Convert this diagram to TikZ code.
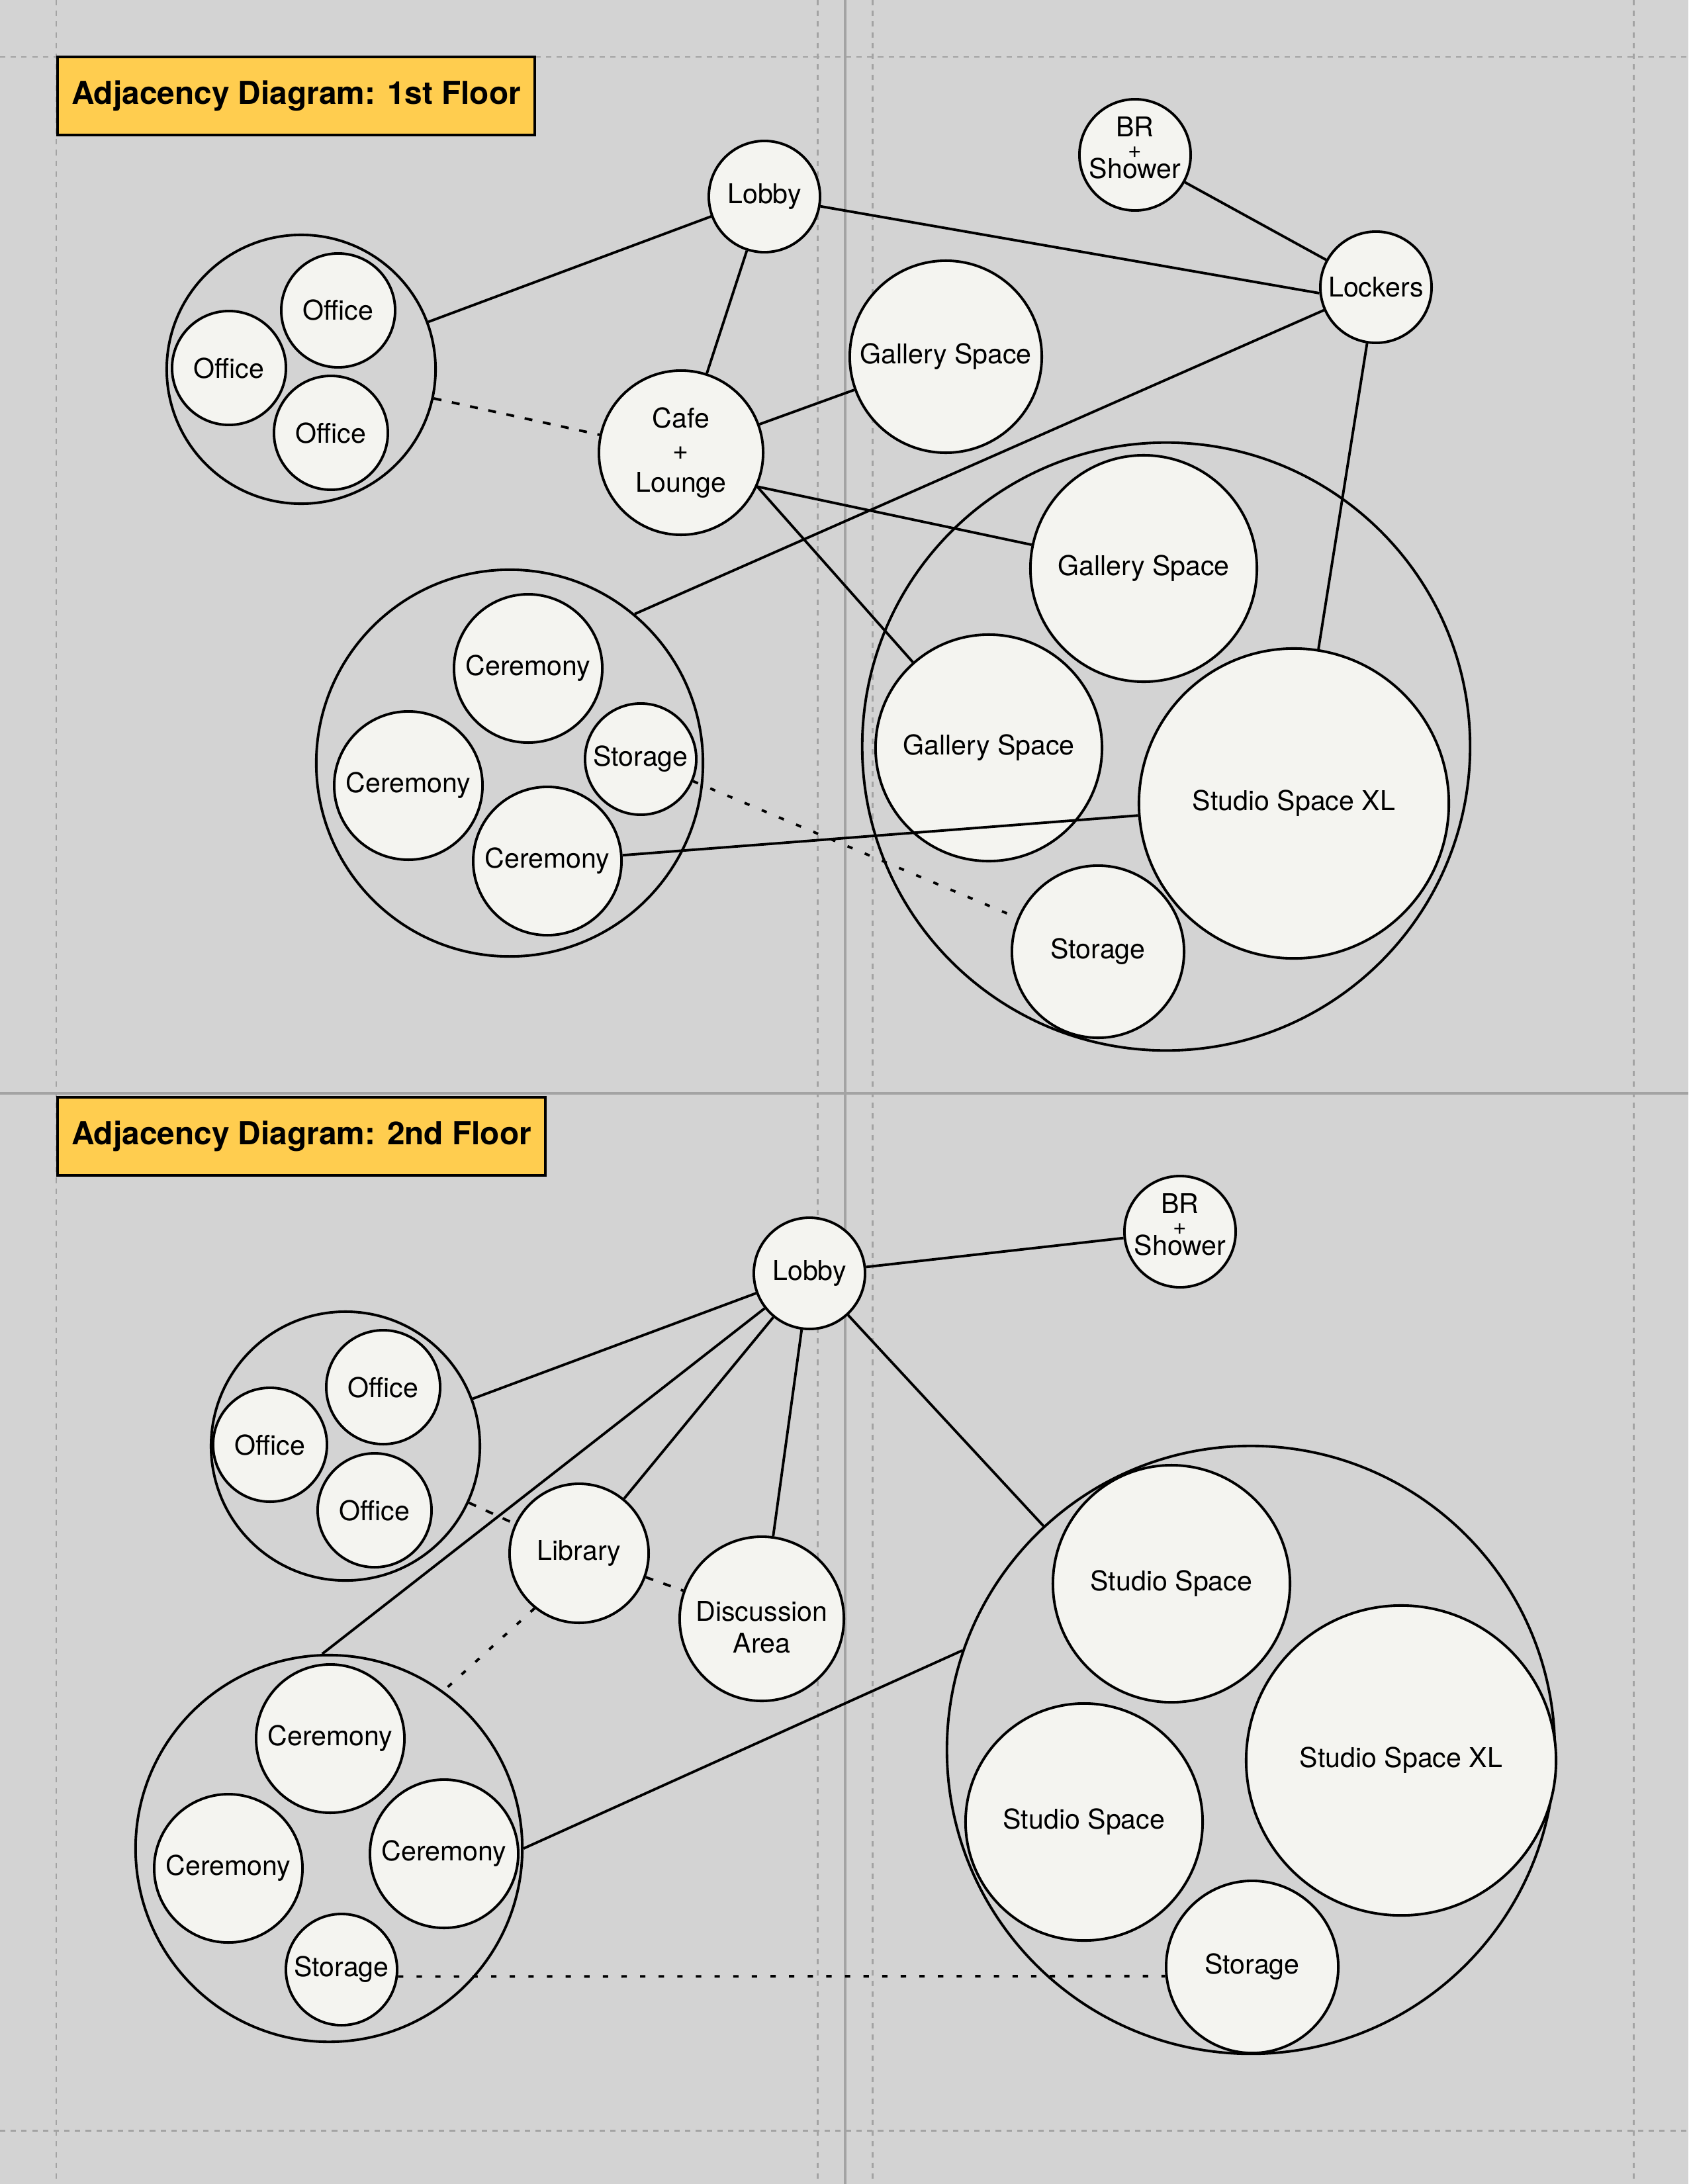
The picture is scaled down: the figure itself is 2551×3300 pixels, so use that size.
\documentclass[tikz,border=0pt]{standalone}
\usepackage{fontspec}
\setmainfont{TeX Gyre Heros}
\usepackage{tikz}
\usetikzlibrary{positioning}

\definecolor{fond}{HTML}{D3D3D3}
\definecolor{papier}{HTML}{F4F4F0}
\definecolor{jaune}{HTML}{FFCD4F}
\definecolor{grille}{HTML}{A3A3A3}

\begin{document}
\begin{tikzpicture}[
                x=0.01cm, y=-0.01cm,
                salle/.style={circle, draw, line width=1.1pt, fill=papier, inner sep=0pt, align=center, font=\fontsize{11.7}{13.8}\selectfont, minimum size=#1},
                salle/.default=1.68cm,
                douche/.style={align=center, inner sep=0pt, font=\fontsize{11.7}{8.9}\selectfont, yshift=3pt},
                discussion/.style={align=center, inner sep=0pt, font=\fontsize{11.7}{13.8}\selectfont, yshift=-3.6pt},
                groupe/.style={circle, draw, line width=1.1pt, inner sep=0pt, minimum size=#1},
                lien/.style={line width=1.1pt},
                tirets/.style={line width=1.1pt, dash pattern=on 3.4pt off 4.6pt},
                points/.style={line width=1.1pt, dash pattern=on 2.3pt off 5.7pt},
                trame/.style={grille, line width=0.85pt, dash pattern=on 2.3pt off 2.3pt},
                titre/.style={draw, line width=1.1pt, fill=jaune, anchor=north west, minimum height=1.18cm, inner xsep=6pt, font=\bfseries\fontsize{13.6}{16}\selectfont}
            ]

            % Fond et trame
            \fill[fond] (0,0) rectangle (2551,3300);
            \useasboundingbox (0,0) rectangle (2551,3300);
            \foreach \gx in {85,1235,1318,2468}
                \draw[trame] (\gx,0) -- (\gx,3300);
            \foreach \gy in {86,3219}
                \draw[trame] (0,\gy) -- (2551,\gy);
            \draw[grille, line width=1.1pt] (1277,0) -- (1277,3300);
            \draw[grille, line width=1.1pt] (0,1652) -- (2551,1652);

            % Titres
            \node[titre] (titre1) at (85,84) {Adjacency Diagram: 1st Floor};
            \node[titre] (titre2) at (85,1656) {Adjacency Diagram: 2nd Floor};

            % 1er etage : groupes
            \node[groupe=4.06cm] (offgrp1) at (455,558) {};
            \node[groupe=5.84cm] (cergrp1) at (770,1153) {};
            \node[groupe=9.18cm] (stgrp1) at (1762,1128) {};

            % 1er etage : salles
            \node[salle] (lobby1) at (1155,297) {Lobby};
            \node[salle, label={[douche]center:{BR\\{\fontsize{10}{9}\selectfont+}\\Shower}}] (br1) at (1715,234) {};
            \node[salle] (lockers) at (2079,434) {Lockers};
            \node[salle=1.72cm] (off1a) at (511,469) {Office};
            \node[salle=1.72cm] (off1b) at (346,556) {Office};
            \node[salle=1.72cm] (off1c) at (500,654) {Office};
            \node[salle=2.48cm] (cafe) at (1029,684) {Cafe\\+\\Lounge};
            \node[salle=2.9cm] (galtop) at (1429,539) {Gallery Space};
            \node[salle=2.24cm] (cer1a) at (798,1010) {Ceremony};
            \node[salle=2.24cm] (cer1b) at (617,1187) {Ceremony};
            \node[salle=2.24cm] (cer1c) at (827,1301) {Ceremony};
            \node[salle] (stor1a) at (968,1147) {Storage};
            \node[salle=3.42cm] (gal1) at (1728,859) {Gallery Space};
            \node[salle=3.42cm] (gal2) at (1494,1130) {Gallery Space};
            \node[salle=4.68cm] (xl1) at (1955,1214) {Studio Space XL};
            \node[salle=2.6cm] (stor1b) at (1659,1438) {Storage};

            % 1er etage : liens
            \draw[lien] (offgrp1) -- (lobby1);
            \draw[lien] (lobby1) -- (cafe);
            \draw[lien] (lobby1) -- (lockers.186);
            \draw[lien] (br1) -- (lockers);
            \draw[lien] (lockers) -- (cergrp1.50);
            \draw[lien] (lockers) -- (xl1);
            \draw[lien] (cafe) -- (galtop);
            \draw[lien] (cafe.-24) -- (gal1);
            \draw[lien] (cafe.-24) -- (gal2);
            \draw[lien] (cer1c) -- (xl1);
            \draw[tirets] (offgrp1) -- (cafe);
            \draw[points] (stor1a) -- (stor1b);

            % 2e etage : groupes
            \node[groupe=4.06cm] (offgrp2) at (522,2185) {};
            \node[groupe=5.84cm] (cergrp2) at (497,2793) {};
            \node[groupe=9.18cm] (stgrp2) at (1890,2644) {};

            % 2e etage : salles
            \node[salle] (lobby2) at (1223,1924) {Lobby};
            \node[salle, label={[douche]center:{BR\\{\fontsize{10}{9}\selectfont+}\\Shower}}] (br2) at (1783,1861) {};
            \node[salle=1.72cm] (off2a) at (579,2096) {Office};
            \node[salle=1.72cm] (off2b) at (408,2183) {Office};
            \node[salle=1.72cm] (off2c) at (566,2282) {Office};
            \node[salle=2.1cm] (lib) at (875,2347) {Library};
            \node[salle=2.48cm, label={[discussion]center:{Discussion\\Area}}] (disc) at (1151,2446) {};
            \node[salle=2.24cm] (cer2a) at (499,2627) {Ceremony};
            \node[salle=2.24cm] (cer2b) at (345,2823) {Ceremony};
            \node[salle=2.24cm] (cer2c) at (671,2801) {Ceremony};
            \node[salle] (stor2a) at (516,2976) {Storage};
            \node[salle=3.58cm] (st2a) at (1770,2393) {Studio Space};
            \node[salle=3.58cm] (st2b) at (1638,2753) {Studio Space};
            \node[salle=4.68cm] (xl2) at (2117,2660) {Studio Space XL};
            \node[salle=2.6cm] (stor2b) at (1892,2972) {Storage};

            % 2e etage : liens
            \draw[lien] (lobby2) -- (br2);
            \draw[lien] (lobby2) -- (offgrp2);
            \draw[lien] (lobby2) -- (cergrp2.92);
            \draw[lien] (lobby2) -- (lib);
            \draw[lien] (lobby2) -- (disc);
            \draw[lien] (lobby2) -- (stgrp2);
            \draw[lien] (stgrp2.161) -- (cergrp2.0);
            \draw[tirets] (offgrp2) -- (lib);
            \draw[tirets] (lib) -- (disc);
            \draw[points] (lib.231) -- (cergrp2.54);
            \draw[points] (stor2a.-7) -- (stor2b.186);
        \end{tikzpicture}
\end{document}
